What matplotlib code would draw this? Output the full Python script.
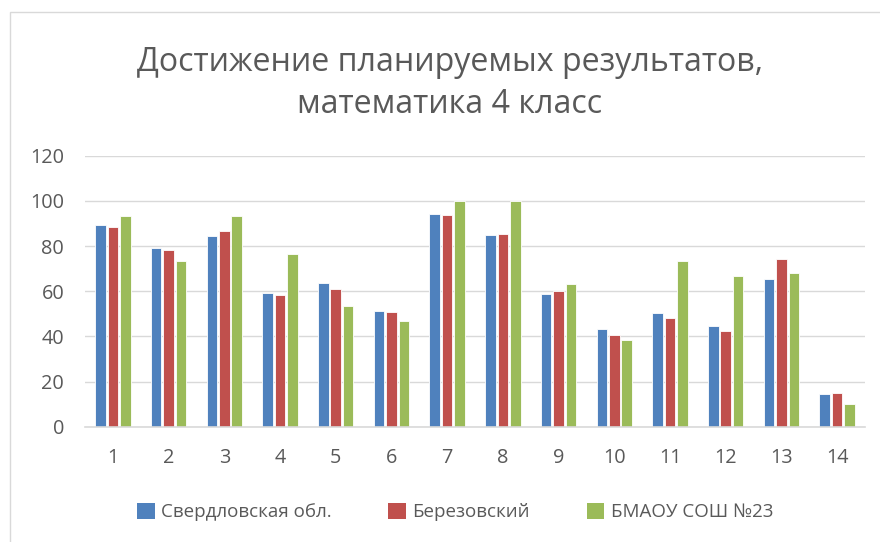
import matplotlib
matplotlib.use("Agg")
import matplotlib.pyplot as plt
from matplotlib.patches import Rectangle, Patch
import numpy as np

categories = [str(i) for i in range(1, 15)]
series_names = ["Свердловская обл.", "Березовский", "БМАОУ СОШ №23"]
sverdl = [89.4, 79.3, 84.4, 59.0, 63.6, 51.2, 94.0, 84.7, 58.7, 43.1, 50.5, 44.4, 65.2, 14.5]
berez = [88.3, 78.1, 86.5, 58.3, 60.8, 50.8, 93.7, 85.3, 59.9, 40.7, 48.0, 42.2, 74.2, 14.8]
school = [93.1, 73.2, 93.1, 76.6, 53.3, 46.6, 100.0, 100.0, 63.2, 38.4, 73.2, 66.6, 68.2, 9.9]
yticks = [0, 20, 40, 60, 80, 100, 120]
title_lines = ["Достижение планируемых результатов,", "математика 4 класс"]

colors = ["#4F81BD", "#C0504D", "#9BBB59"]
TEXT = "#595959"
GRID = "#D9D9D9"
FONT = ["Open Sans", "DejaVu Sans"]

W, H = 880, 542
fig = plt.figure(figsize=(W / 100, H / 100), dpi=100)
renderer = fig.canvas.get_renderer()


def fit(text, target_px, size0=20):
    t = fig.text(0, 0, text, fontsize=size0, family=FONT)
    w = t.get_window_extent(renderer).width
    t.remove()
    return size0 * target_px / w


title_fs = fit(title_lines[0], 626)
tick_fs = fit("120", 34)
leg_fs = fit(series_names[0], 171)

left, right = 85 / W, 865 / W
bottom, top = (H - 426.7) / H, (H - 155.7) / H
ax = fig.add_axes([left, bottom, right - left, top - bottom])

x = np.arange(len(categories))
data = [sverdl, berez, school]
offs = [-0.222, 0.0, 0.222]
bw = 0.19
for vals, c, o, name in zip(data, colors, offs, series_names):
    ax.bar(x + o, vals, bw, color=c, edgecolor="white", linewidth=0.6, label=name, zorder=3)

ax.set_xlim(-0.5, len(categories) - 0.5)
ax.set_ylim(0, 120)
ax.set_yticks(yticks)
ax.set_yticklabels([str(v) for v in yticks])
ax.set_xticks(x)
ax.set_xticklabels(categories)
ax.yaxis.grid(True, color=GRID, linewidth=1.0, zorder=0)
ax.set_axisbelow(True)
for s in ["top", "right", "left"]:
    ax.spines[s].set_visible(False)
ax.spines["bottom"].set_color(GRID)
ax.spines["bottom"].set_linewidth(1.2)
ax.spines["bottom"].set_zorder(4)
ax.tick_params(axis="both", length=0, colors=TEXT, labelsize=tick_fs)
ax.tick_params(axis="y", pad=15)
ax.tick_params(axis="x", pad=15)
for lab in ax.get_xticklabels() + ax.get_yticklabels():
    lab.set_family(FONT)

# title
fig.text(450 / W, 1 - 71 / H, title_lines[0], ha="center", va="baseline",
         fontsize=title_fs, color=TEXT, family=FONT)
fig.text(450 / W, 1 - 113 / H, title_lines[1], ha="center", va="baseline",
         fontsize=title_fs, color=TEXT, family=FONT)

# legend
handles = [Patch(facecolor=c, edgecolor="none") for c in colors]
leg = fig.legend(handles, series_names, loc="center", bbox_to_anchor=(455 / W, 1 - 512 / H),
                 ncol=3, frameon=False, prop={"family": FONT, "size": leg_fs},
                 handlelength=0.95, handleheight=0.95, handletextpad=0.35, columnspacing=3.0,
                 borderaxespad=0)
for t in leg.get_texts():
    t.set_color(TEXT)

# chart border
fig.patches.append(Rectangle((9.5 / W, -0.1), 1.0, (H - 12) / H + 0.1, transform=fig.transFigure,
                             fill=False, edgecolor=GRID, linewidth=1.0))

fig.savefig("out.png", dpi=100)
